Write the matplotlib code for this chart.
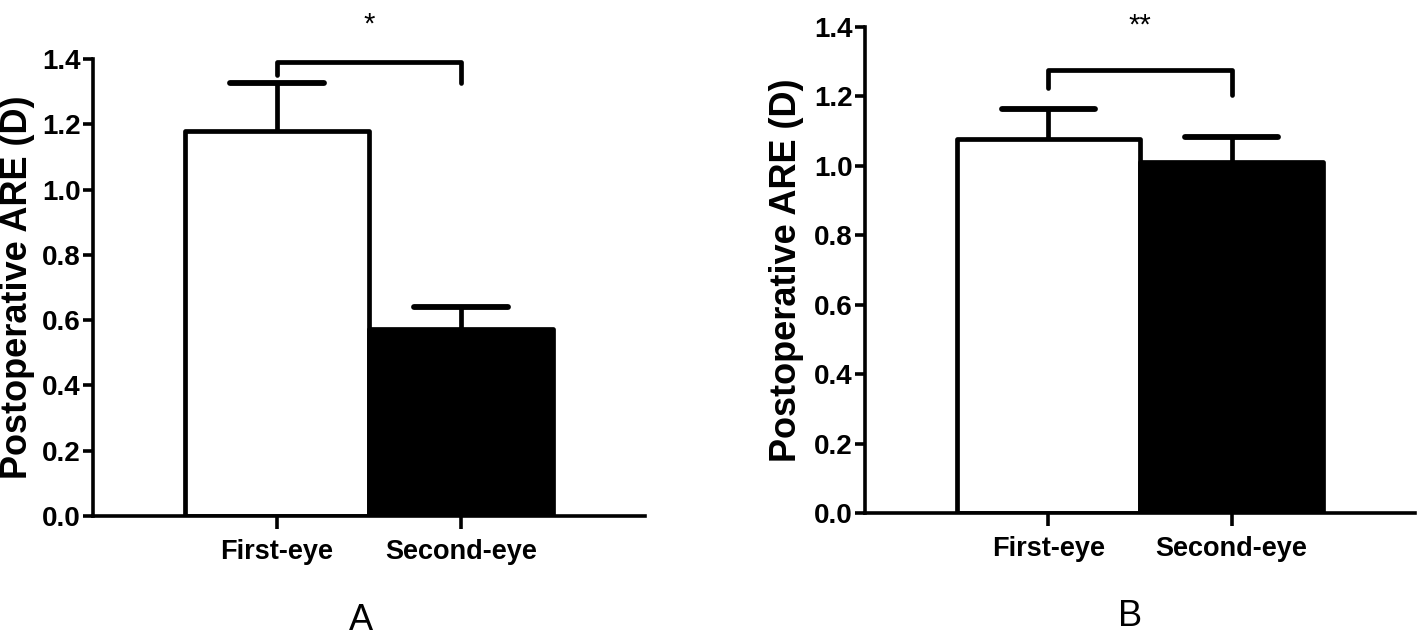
import matplotlib
matplotlib.use("Agg")
import matplotlib.pyplot as plt

# ---------------- data ----------------
categories = ["First-eye", "Second-eye"]
panel_letters = ["A", "B"]
means_A = [1.18, 0.573]
errs_A = [0.145, 0.067]
means_B = [1.077, 1.011]
errs_B = [0.087, 0.072]
stars = ["*", "**"]
bracket_A = [1.351, 1.391, 1.326]   # left end, top, right end
bracket_B = [1.224, 1.276, 1.204]
yticks = [0.0, 0.2, 0.4, 0.6, 0.8, 1.0, 1.2, 1.4]
ylabel = "Postoperative ARE (D)"
bar_colors = ["white", "black"]

FONT = "Liberation Sans"

fig = plt.figure(figsize=(14.18, 6.39), dpi=100)

panels = [
    dict(rect=[93/1418, (639-516)/639, 552/1418, 457/639],
         means=means_A, errs=errs_A, br=bracket_A, star=stars[0],
         star_y=1.505, label_x=-0.136,
         letter=panel_letters[0], letter_xy=(361/1418, 1-621/639)),
    dict(rect=[865/1418, (639-513)/639, 550/1418, 486/639],
         means=means_B, errs=errs_B, br=bracket_B, star=stars[1],
         star_y=1.405, label_x=-0.142,
         letter=panel_letters[1], letter_xy=(1130/1418, 1-616/639)),
]

LW = 3.4
x = [1, 2]
for p in panels:
    ax = fig.add_axes(p["rect"])
    ax.bar(x, p["means"], width=1.0, color=bar_colors, edgecolor="black",
           linewidth=LW, zorder=2, joinstyle="round")
    tops = [m + e for m, e in zip(p["means"], p["errs"])]
    ax.vlines(x, p["means"], tops, color="black", linewidth=LW, zorder=3)
    ax.hlines(tops, [xi - 0.255 for xi in x], [xi + 0.255 for xi in x],
              color="black", linewidth=LW + 0.8, zorder=3, capstyle="round")
    bl, bt, br = p["br"]
    ax.plot([1, 1, 2, 2], [bl, bt, bt, br], color="black", linewidth=LW,
            solid_capstyle="round", solid_joinstyle="round", clip_on=False, zorder=4)
    ax.text(1.5, p["star_y"], p["star"], ha="center", va="center",
            fontsize=21, family=FONT, clip_on=False)

    ax.set_xlim(0, 3)
    ax.set_ylim(0, 1.4)
    ax.spines["top"].set_visible(False)
    ax.spines["right"].set_visible(False)
    for s in ("left", "bottom"):
        ax.spines[s].set_linewidth(2.6)
    ax.set_yticks(yticks)
    ax.set_yticklabels([f"{t:.1f}" for t in yticks], family=FONT,
                       fontweight="bold", fontsize=20)
    ax.set_xticks(x)
    ax.set_xticklabels(categories, family=FONT, fontweight="bold",
                       fontsize=19.5)
    ax.tick_params(axis="y", direction="out", length=7, width=2.6, pad=2)
    ax.tick_params(axis="x", direction="out", length=9.5, width=2.6, pad=7)
    ax.set_ylabel(ylabel, family=FONT, fontweight="bold", fontsize=26,
                  va="center")
    ax.yaxis.set_label_coords(p["label_x"], 0.5)
    fig.text(p["letter_xy"][0], p["letter_xy"][1], p["letter"], ha="center",
             va="center", family=FONT, fontsize=26)

fig.savefig("out.png", dpi=100)
